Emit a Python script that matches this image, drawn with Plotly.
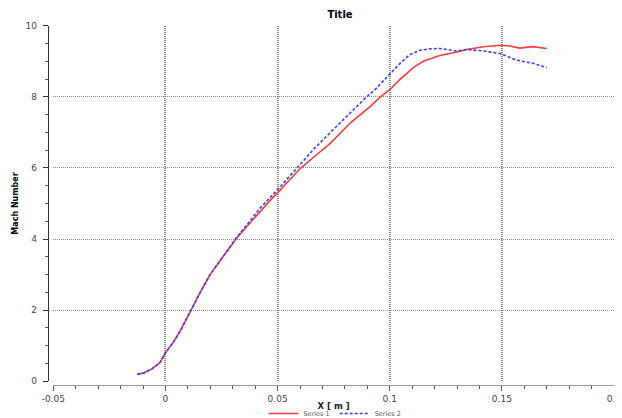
import plotly.graph_objects as go

# Series 1 (red, solid)
x_s1 = [-0.0125, -0.0099, -0.0060, -0.0024, 0.0, 0.0035, 0.0068, 0.0113, 0.0155, 0.0199,
        0.0255, 0.0318, 0.0370, 0.0422, 0.0466, 0.0513, 0.0602, 0.0670, 0.0736, 0.0825,
        0.0915, 0.0959, 0.1000, 0.1046, 0.1105, 0.1150, 0.1224, 0.1299, 0.1343, 0.1417,
        0.1492, 0.1536, 0.1580, 0.1640, 0.1700]
y_s1 = [0.20, 0.23, 0.35, 0.53, 0.80, 1.10, 1.44, 2.00, 2.50, 3.00,
        3.50, 4.03, 4.40, 4.78, 5.08, 5.39, 5.99, 6.35, 6.70, 7.27,
        7.74, 8.00, 8.20, 8.49, 8.82, 9.00, 9.16, 9.26, 9.33, 9.41,
        9.45, 9.43, 9.37, 9.41, 9.36]

# Series 2 (blue, dashed)
x_s2 = [-0.0125, -0.0099, -0.0060, -0.0024, 0.0, 0.0035, 0.0068, 0.0113, 0.0155, 0.0199,
        0.0255, 0.0318, 0.0370, 0.0422, 0.0513, 0.0585, 0.0660, 0.0734, 0.0808, 0.0897,
        0.0934, 0.1001, 0.1046, 0.1090, 0.1135, 0.1180, 0.1224, 0.1299, 0.1343, 0.1417,
        0.1492, 0.1566, 0.1640, 0.1700]
y_s2 = [0.20, 0.23, 0.35, 0.53, 0.80, 1.10, 1.44, 2.00, 2.50, 3.00,
        3.50, 4.05, 4.45, 4.87, 5.48, 5.99, 6.52, 6.99, 7.45, 8.00,
        8.20, 8.63, 8.94, 9.19, 9.31, 9.35, 9.36, 9.29, 9.33, 9.29,
        9.22, 9.03, 8.94, 8.82]

series_names = ["Series 1", "Series 2"]
title_text = "Title"
x_title = "X [ m ]"
y_title = "Mach Number"
x_tickvals = [-0.05, 0, 0.05, 0.1, 0.15, 0.2]
x_ticktext = ["-0.05", "0", "0.05", "0.1", "0.15", "0.2"]
y_tickvals = [0, 2, 4, 6, 8, 10]

# page body has an 8px margin; figure drawn offset by it
OFF = 8
W, H = 622 - OFF, 418 - OFF
ML, MR, MT, MB = 30, 8, 16, 30
pw = W - ML - MR
ph = H - MT - MB

def px2paper_x(px):
    return (px - OFF - ML) / pw

def px2paper_y(py):
    return (H - MB - (py - OFF)) / ph

fig = go.Figure()
fig.add_trace(go.Scatter(x=x_s1, y=y_s1, mode="lines", name=series_names[0],
                         line=dict(color="#ff3b3b", width=1.6)))
fig.add_trace(go.Scatter(x=x_s2, y=y_s2, mode="lines", name=series_names[1],
                         line=dict(color="#3b3bff", width=1.6, dash="3px,2px")))

font = "DejaVu Sans, Verdana, sans-serif"

fig.update_layout(
    width=W, height=H,
    margin=dict(l=ML, r=MR, t=MT, b=MB, autoexpand=False),
    paper_bgcolor="white", plot_bgcolor="white",
    font=dict(family=font, size=9, color="#333"),
    title=dict(text="<b>" + title_text + "</b>", x=px2paper_x(340), xref="paper",
               xanchor="center", y=1 - (14 - OFF) / H, yanchor="middle",
               font=dict(size=10, color="#000", family=font)),
    showlegend=True,
    legend=dict(orientation="h", x=px2paper_x(335), xanchor="center",
                y=px2paper_y(413.5), yanchor="middle",
                font=dict(size=6.5, color="#555"), itemwidth=30,
                bgcolor="rgba(0,0,0,0)"),
    xaxis=dict(
        range=[-0.05, 0.2], domain=[px2paper_x(53.3), 1.0],
        anchor="free", position=px2paper_y(385), automargin=False,
        tickvals=x_tickvals, ticktext=x_ticktext, ticklabeloverflow="allow",
        showline=True, linecolor="#999", linewidth=1,
        ticks="outside", ticklen=5, tickcolor="#555",
        minor=dict(dtick=0.01, tick0=0, ticks="outside", ticklen=3, tickcolor="#555", showgrid=False),
        showgrid=True, gridcolor="#8a8a8a", gridwidth=1.6, griddash="1px,1px",
        zeroline=False,
        tickfont=dict(size=9, color="#444"),
        title=dict(text="<b>" + x_title + "</b>", standoff=0, font=dict(size=8.5, color="#222")),
    ),
    yaxis=dict(
        range=[0, 10], domain=[px2paper_y(381.3), min(1.0, px2paper_y(25.7))],
        anchor="free", position=px2paper_x(47.7), automargin=False,
        tickvals=y_tickvals, ticklabeloverflow="allow", ticklabelstandoff=4,
        showline=True, linecolor="#333", linewidth=1,
        ticks="outside", ticklen=5, tickcolor="#333",
        minor=dict(dtick=0.5, tick0=0, ticks="outside", ticklen=3, tickcolor="#555", showgrid=False),
        showgrid=True, gridcolor="#8a8a8a", gridwidth=1, griddash="1px,1px",
        zeroline=False,
        tickfont=dict(size=9, color="#444"),
        title=dict(text="<b>" + y_title + "</b>", standoff=4, font=dict(size=8, color="#000")),
    ),
)

fig.write_html("out.html")
